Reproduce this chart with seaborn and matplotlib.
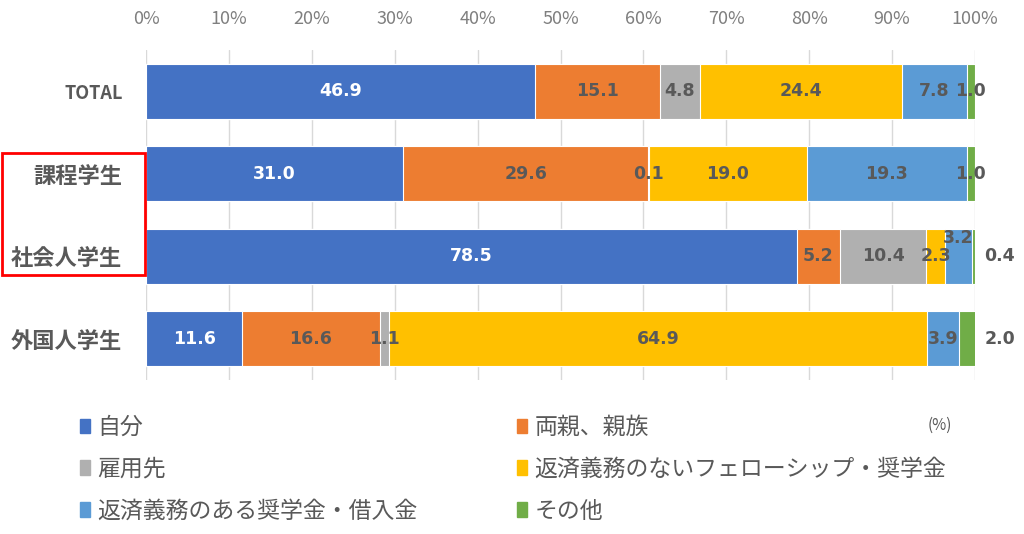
import pandas as pd
import matplotlib.pyplot as plt
import matplotlib.patches as mpatches
import seaborn as sns

# 学生区分ごとの経費負担者の割合（%）
groups = ['TOTAL', '課程学生', '社会人学生', '外国人学生']
categories = ['自分', '両親、親族', '雇用先', '返済義務のないフェローシップ・奨学金',
              '返済義務のある奨学金・借入金', 'その他']
self_pay = [46.9, 31.0, 78.5, 11.6]
parents = [15.1, 29.6, 5.2, 16.6]
employer = [4.8, 0.1, 10.4, 1.1]
grant = [24.4, 19.0, 2.3, 64.9]
loan = [7.8, 19.3, 3.2, 3.9]
other = [1.0, 1.0, 0.4, 2.0]

colors = ['#4472C4', '#ED7D31', '#B0B0B0', '#FFC000', '#5B9BD5', '#70AD47']
label_colors = ['white', '#595959', '#595959', '#595959', '#595959', '#595959']
outside_rows = ['社会人学生', '外国人学生']  # "その他" の値をバーの外に表示する行
raised = [('社会人学生', '返済義務のある奨学金・借入金')]  # 重なるので少し上にずらすラベル

df = pd.DataFrame({'group': groups})
for cat, vals in zip(categories, [self_pay, parents, employer, grant, loan, other]):
    df[cat] = vals

# 積み上げ用の累積値
cum = df[categories].cumsum(axis=1)

sns.set_theme(style='white')
plt.rcParams['font.family'] = ['Noto Sans CJK JP', 'DejaVu Sans']

fig = plt.figure(figsize=(10.24, 5.34), dpi=100)
ax = fig.add_axes([146 / 1024, 1 - 380 / 534, 829 / 1024, 330 / 534])

# 長い累積バーから順に重ねて描き、積み上げ棒グラフにする
for i in range(len(categories) - 1, -1, -1):
    sns.barplot(x=cum[categories[i]], y=df['group'], color=colors[i], orient='h',
                width=0.67, edgecolor='white', linewidth=0.8, ax=ax, saturation=1)

# 値ラベル
for r, g in enumerate(groups):
    left = 0
    for i, cat in enumerate(categories):
        v = df.loc[r, cat]
        x = left + v / 2
        y = r
        if i == len(categories) - 1 and g in outside_rows:
            x = 103
        if (g, cat) in raised:
            y = r - 0.22
        ax.text(x, y, f'{v:.1f}', ha='center', va='center', fontsize=12.5,
                fontweight='bold', color=label_colors[i], family='DejaVu Sans')
        left += v

ax.set_xlim(0, 100)
ax.set_ylim(3.5, -0.5)
ax.set_xticks(range(0, 101, 10))
ax.set_xticklabels([f'{t}%' for t in range(0, 101, 10)], color='#7f7f7f', fontsize=13)
ax.xaxis.tick_top()
ax.tick_params(axis='x', length=0, pad=16)
ax.tick_params(axis='y', length=0, pad=17)
ax.set_yticks(range(len(groups)))
ax.set_yticklabels(groups, fontsize=16, fontweight='bold', color='#595959')
ax.get_yticklabels()[0].set_fontsize(13)
ax.set_xlabel('')
ax.set_ylabel('')
ax.grid(axis='x', color='#d9d9d9', linewidth=1)
ax.set_axisbelow(True)
for s in ax.spines.values():
    s.set_visible(False)

# 凡例
handles = [mpatches.Patch(color=c, label=l) for c, l in zip(colors, categories)]
order = [0, 2, 4, 1, 3, 5]
fig.legend([handles[k] for k in order], [categories[k] for k in order],
           ncol=2, loc='upper left', bbox_to_anchor=(80 / 1024, 1 - 416 / 534),
           frameon=False, borderpad=0, borderaxespad=0,
           fontsize=16.5, handlelength=0.45, handleheight=0.6, handletextpad=0.3,
           columnspacing=4.35, labelspacing=0.82, labelcolor='#595959')
fig.text(940 / 1024, 1 - 425 / 534, '(%)', fontsize=11, color='#595959',
         ha='center', va='center')

# 赤枠
fig.patches.append(mpatches.Rectangle((2 / 1024, 1 - 275 / 534), 143 / 1024, 122 / 534,
                                      transform=fig.transFigure, fill=False,
                                      edgecolor='red', linewidth=2))

fig.savefig('out.png', dpi=100, facecolor='white')
